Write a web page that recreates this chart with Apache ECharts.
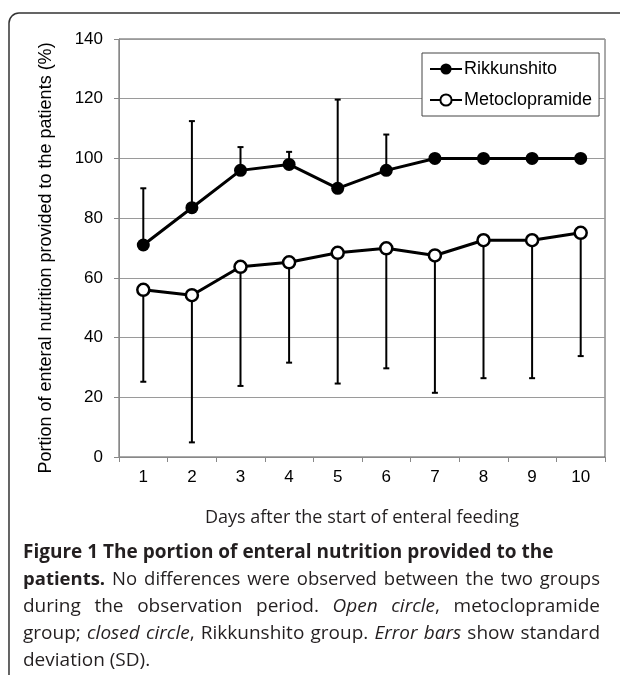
<!DOCTYPE html>
<html>
<head>
<meta charset="utf-8">
<script src="https://cdn.jsdelivr.net/npm/echarts@6/dist/echarts.min.js"></script>
<style>
html,body{margin:0;padding:0;background:#fff;}
#chart{width:620px;height:675px;}
</style>
</head>
<body>
<div id="chart"></div>
<script>
// days on x axis
const days = ['1','2','3','4','5','6','7','8','9','10'];
// means (%)
const rikkunshito = [71, 83.5, 96, 98, 90, 96, 100, 100, 100, 100];
const metoclopramide = [56, 54.2, 63.7, 65.2, 68.4, 69.9, 67.5, 72.6, 72.6, 75.1];
// standard deviations
const rikkunshitoSD = [19, 29, 7.8, 4.2, 29.7, 12, 0, 0, 0, 0];
const metoclopramideSD = [30.8, 49.3, 39.9, 33.6, 43.8, 40.2, 46, 46.2, 46.2, 41.3];
const yTicks = [0, 20, 40, 60, 80, 100, 120, 140];

const chartFont = 'Arial';
const capFont = 'Open Sans';

function errData(means, sds, dir){
	let out = [];
	for(let i=0;i<means.length;i++){
		if(!sds[i]) continue;
		out.push([i, means[i], means[i] + dir*sds[i]]);
	}
	return out;
}

function renderErr(params, api){
	let p0 = api.coord([api.value(0), api.value(1)]);
	let p1 = api.coord([api.value(0), api.value(2)]);
	let cap = 3;
	return {
		type:'group',
		children:[
			{type:'line', shape:{x1:p0[0],y1:p0[1],x2:p1[0],y2:p1[1]}, style:{stroke:'#000',lineWidth:2}},
			{type:'line', shape:{x1:p1[0]-cap,y1:p1[1],x2:p1[0]+cap,y2:p1[1]}, style:{stroke:'#000',lineWidth:2}}
		]
	};
}

// caption, line by line; segments are [text, style]
const captionLines = [
	{just:false, segs:[['Figure 1 The portion of enteral nutrition provided to the','b']]},
	{just:true, segs:[['patients.','b'],[' No differences were observed between the two groups','n']]},
	{just:true, segs:[['during the observation period. ','n'],['Open circle','i'],[', metoclopramide','n']]},
	{just:true, segs:[['group; ','n'],['closed circle','i'],[', Rikkunshito group. ','n'],['Error bars','i'],[' show standard','n']]},
	{just:false, segs:[['deviation (SD).','n']]}
];
const capSize = 19;
const capLeft = 23, capRight = 600, capTop = 553, capLine = 27;

function fontOf(st, size){
	if(st=='b') return 'bold '+size+'px "'+capFont+'"';
	if(st=='i') return 'italic '+size+'px "'+capFont+'"';
	return size+'px "'+capFont+'"';
}

function buildCaption(){
	let ctx = document.createElement('canvas').getContext('2d');
	let els = [];
	captionLines.forEach(function(line, li){
		let tokens = [];
		line.segs.forEach(function(s){
			s[0].split(' ').forEach(function(w, k){
				if(k>0 && tokens.length && tokens[tokens.length-1]!==null) tokens.push(null);
				if(w!=='') tokens.push([w, s[1]]);
			});
		});
		while(tokens.length && tokens[tokens.length-1]===null) tokens.pop();
		let size = capSize, total, nGaps, spaceW;
		// shrink the line a little if it would not fit
		do {
			total = 0; nGaps = 0;
			ctx.font = fontOf('n', size);
			spaceW = ctx.measureText(' ').width;
			tokens.forEach(function(t){
				if(t===null){ nGaps++; total += spaceW; return; }
				ctx.font = fontOf(t[1], size);
				total += ctx.measureText(t[0]).width;
			});
			if(total <= capRight - capLeft - nGaps) break;
			size -= 0.5;
		} while(size > 10);
		let gap = spaceW;
		if(line.just && nGaps>0) gap = spaceW + (capRight - capLeft - total)/nGaps;
		let x = capLeft, y = capTop + li*capLine;
		tokens.forEach(function(t){
			if(t===null){ x += gap; return; }
			ctx.font = fontOf(t[1], size);
			let w = ctx.measureText(t[0]).width;
			els.push({
				type:'text', x:x, y:y,
				style:{text:t[0], font:fontOf(t[1], size), fill:'#231f20', textVerticalAlign:'middle'}
			});
			x += w;
		});
	});
	return els;
}

let chart = echarts.init(document.getElementById('chart'), null, {renderer:'canvas'});

let option = {
	animation:false,
	backgroundColor:'#fff',
	textStyle:{fontFamily:chartFont},
	grid:{left:119, top:39, right:15, bottom:218, show:true, borderColor:'#555', borderWidth:1, backgroundColor:'transparent'},
	legend:{
		left:422, top:53,
		orient:'vertical',
		backgroundColor:'#fff',
		borderColor:'#444', borderWidth:1,
		padding:[7,7,7,7],
		itemGap:13,
		itemWidth:32, itemHeight:14,
		textStyle:{fontFamily:chartFont, fontSize:18, color:'#000', padding:[0,0,0,-3]},
		data:['Rikkunshito','Metoclopramide']
	},
	xAxis:{
		type:'category',
		data:days,
		boundaryGap:true,
		name:'Days after the start of enteral feeding',
		nameLocation:'middle',
		nameGap:52,
		nameTextStyle:{fontFamily:capFont, fontSize:18, color:'#231f20'},
		axisLine:{lineStyle:{color:'#888', width:1}},
		axisTick:{show:true, inside:false, length:5, lineStyle:{color:'#888'}},
		axisLabel:{fontFamily:chartFont, fontSize:17, color:'#000', margin:12},
		splitLine:{show:false}
	},
	yAxis:{
		type:'value',
		min:yTicks[0], max:yTicks[yTicks.length-1], interval:20,
		name:'Portion of enteral nutrition provided to the patients (%)',
		nameLocation:'middle',
		nameGap:64,
		nameTextStyle:{fontFamily:chartFont, fontSize:18, color:'#000', padding:[0,20,0,0]},
		axisLine:{show:true, lineStyle:{color:'#888', width:1}},
		axisTick:{show:true, inside:false, length:5, lineStyle:{color:'#888'}},
		axisLabel:{fontFamily:chartFont, fontSize:17, color:'#000', margin:16},
		splitLine:{show:true, lineStyle:{color:'#9a9a9a', width:1}}
	},
	series:[
		{
			type:'custom', name:'rikErr', renderItem:renderErr, z:1,
			data:errData(rikkunshito, rikkunshitoSD, 1), silent:true
		},
		{
			type:'custom', name:'metErr', renderItem:renderErr, z:1,
			data:errData(metoclopramide, metoclopramideSD, -1), silent:true
		},
		{
			type:'line', name:'Rikkunshito', data:rikkunshito, z:3,
			symbol:'circle', symbolSize:13,
			lineStyle:{color:'#000', width:3},
			itemStyle:{color:'#000', borderColor:'#000', borderWidth:0}
		},
		{
			type:'line', name:'Metoclopramide', data:metoclopramide, z:3,
			symbol:'circle', symbolSize:12,
			lineStyle:{color:'#000', width:3},
			itemStyle:{color:'#fff', borderColor:'#000', borderWidth:2.5}
		}
	],
	graphic:[
		{
			// frame; right and bottom edges run off the picture
			type:'rect', z:-1, silent:true,
			shape:{x:9, y:13, width:640, height:700, r:10},
			style:{fill:'none', stroke:'#333', lineWidth:1.5}
		}
	].concat(buildCaption())
};

chart.setOption(option);
</script>
</body>
</html>
